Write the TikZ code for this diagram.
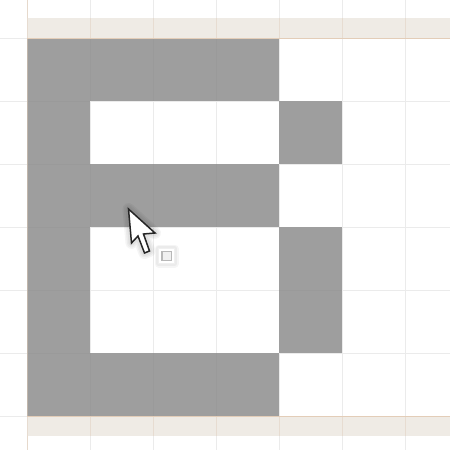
\documentclass[tikz,border=0pt]{standalone}
\usepackage{tikz}

\definecolor{cellgray}{HTML}{9E9E9E}
\definecolor{bandtan}{HTML}{EFEBE5}
\definecolor{edgetan}{HTML}{E3CDB8}
\definecolor{gridgray}{HTML}{EBEBEB}

\tikzset{
    cell/.style={fill=cellgray, draw=none},
    gridline/.style={draw=gridgray, line width=0.8pt},
    darkline/.style={draw=black!45, opacity=0.22, line width=0.8pt},
    bandline/.style={draw=edgetan, line width=0.8pt},
    bandcross/.style={draw=edgetan!50!gridgray, line width=0.8pt},
    halo/.style={draw=black, opacity=0.04, line join=round}
}

\newcommand{\arrowpath}{(128.5,209) -- (131.5,243) -- (138,236) -- (144.5,253) -- (149.5,251) -- (143.5,234) -- (155,233) -- cycle}

\begin{document}
\begin{tikzpicture}[x=1pt, y=-1pt]
    \useasboundingbox (0,0) rectangle (450,450);
    \fill[white] (0,0) rectangle (450,450);

    % Grid
    \foreach \x in {90.5,153.5,216.5,279.5,342.5,405.5}
        \draw[gridline] (\x,0) -- (\x,450);
    \foreach \y in {101,164,227,290,353}
        \draw[gridline] (0,\y) -- (450,\y);
    \draw[gridline] (0,38) -- (27,38);
    \draw[gridline] (0,416) -- (27,416);
    \draw[draw=edgetan!60!gridgray, line width=0.8pt] (27.5,0) -- (27.5,450);

    % Bands
    \fill[bandtan] (27,18) rectangle (450,38);
    \fill[bandtan] (27,416) rectangle (450,436);
    \foreach \x in {27.5,90.5,153.5,216.5,279.5,342.5,405.5} {
        \draw[bandcross] (\x,18) -- (\x,38);
        \draw[bandcross] (\x,416) -- (\x,436);
    }

    % Letter cells
    \foreach \cx/\cy/\cw in {27/38/252, 27/101/63, 279/101/63, 27/164/252, 27/227/63, 279/227/63, 27/290/63, 279/290/63, 27/353/252}
        \fill[cell] (\cx,\cy) rectangle ++(\cw,63);

    % Lines across the cells
    \foreach \x in {90.5,153.5,216.5} {
        \draw[darkline] (\x,38) -- (\x,101);
        \draw[darkline] (\x,164) -- (\x,227);
        \draw[darkline] (\x,353) -- (\x,416);
    }
    \foreach \y in {101,164,227,290,353}
        \draw[darkline] (27,\y) -- (90,\y);
    \draw[darkline] (279,290) -- (342,290);
    \draw[edgetan!50!cellgray, line width=0.8pt] (27.5,38) -- (27.5,416);

    % Band edges
    \draw[bandline] (27,38) -- (450,38);
    \draw[bandline] (27,416) -- (450,416);

    % Cursor shadow
    \foreach \w in {12,9,6}
        \draw[halo, line width=\w pt] \arrowpath;
    \foreach \w in {8,5}
        \draw[halo, line width=\w pt] (158.5,248.5) rectangle (174.5,263.5);

    % Cursor
    \draw[fill=white, draw=black!85, line width=1.5pt, line join=miter] \arrowpath;
    \draw[fill=white, draw=black!6, line width=1.5pt] (158.5,248.5) rectangle (174.5,263.5);
    \draw[fill=black!6, draw=black!28, line width=1.6pt] (162,251.5) rectangle (171.5,260.5);
\end{tikzpicture}
\end{document}
